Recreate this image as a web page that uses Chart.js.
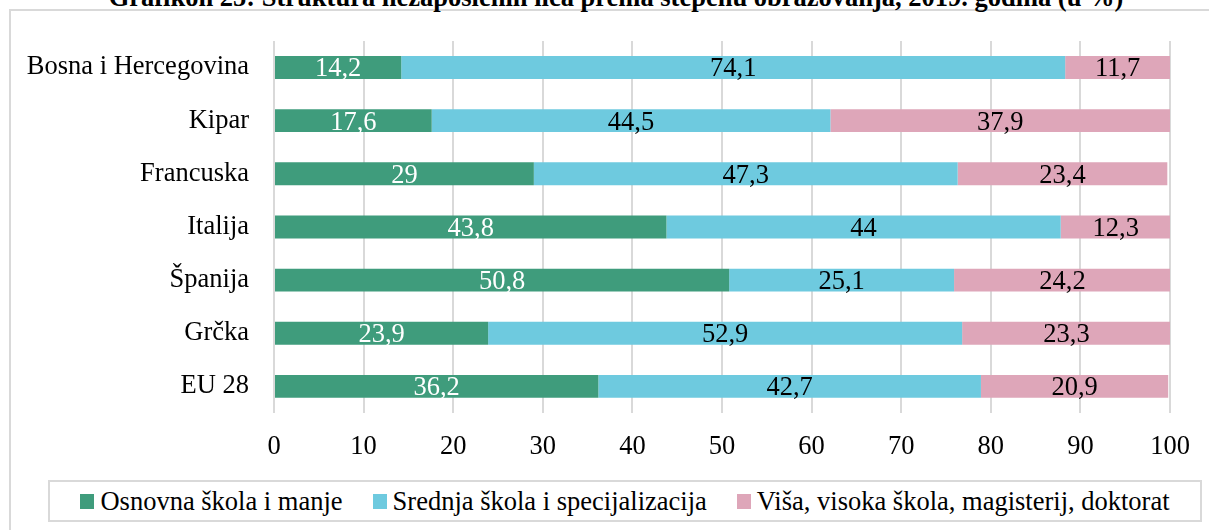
<!DOCTYPE html>
<html lang="bs">
<head>
    <meta charset="UTF-8">
    <title>Grafikon 25</title>
    <script src="https://cdn.jsdelivr.net/npm/chart.js"></script>
    <style>
        body { margin: 0; background: #fff; font-family: "Liberation Serif", "Times New Roman", serif; overflow: hidden; }
        #wrap { position: relative; width: 1209px; height: 530px; overflow: hidden; }
        #title { position: absolute; left: 0; top: -16px; width: 1232px; text-align: center;
                 font-weight: bold; font-size: 26.5px; line-height: 26.5px; color: #000; white-space: nowrap; }
        #frame { position: absolute; left: 9px; top: 9px; width: 1300px; height: 600px;
                 border-top: 2px solid #d9d9d9; border-left: 2px solid #d9d9d9; }
        canvas { position: absolute; left: 0; top: 0; }
        #legend { position: absolute; left: 48px; top: 480px; width: 1150px; height: 38px;
                  border: 2px solid #d9d9d9; display: flex; justify-content: center; align-items: center;
                  font-size: 26.5px; color: #000; background: #fff; }
        .item { display: flex; align-items: center; margin: 0 15px; white-space: nowrap; }
        .box { width: 14px; height: 15px; margin-right: 6px; }
    </style>
</head>
<body>
<div id="wrap">
    <div id="frame"></div>
    <div id="title">Grafikon 25: Struktura nezaposlenih lica prema stepenu obrazovanja, 2019. godina (u %)</div>
    <canvas id="chart" width="1209" height="530"></canvas>
    <div id="legend"></div>
</div>

<script>
    // podaci (u %)
    const categories = ['Bosna i Hercegovina', 'Kipar', 'Francuska', 'Italija', 'Španija', 'Grčka', 'EU 28'];
    const osnovna = [14.2, 17.6, 29, 43.8, 50.8, 23.9, 36.2];
    const srednja = [74.1, 44.5, 47.3, 44, 25.1, 52.9, 42.7];
    const visa = [11.7, 37.9, 23.4, 12.3, 24.2, 23.3, 20.9];
    const seriesNames = ['Osnovna škola i manje', 'Srednja škola i specijalizacija', 'Viša, visoka škola, magisterij, doktorat'];
    const xTicks = [0, 10, 20, 30, 40, 50, 60, 70, 80, 90, 100];

    const colors = ['#3f9c7c', '#6ecadf', '#dea6b9'];
    const labelColors = ['#ffffff', '#000000', '#000000'];
    const font = { family: '"Liberation Serif", "Times New Roman", serif', size: 26.5 };

    // oznake vrijednosti na segmentima
    const valueLabels = {
        id: 'valueLabels',
        afterDatasetsDraw(chart) {
            const ctx = chart.ctx;
            ctx.save();
            ctx.font = font.size + 'px ' + font.family;
            ctx.textAlign = 'center';
            ctx.textBaseline = 'middle';
            chart.data.datasets.forEach((ds, i) => {
                chart.getDatasetMeta(i).data.forEach((bar, j) => {
                    const txt = String(ds.data[j]).replace('.', ',');
                    ctx.fillStyle = labelColors[i];
                    ctx.fillText(txt, (bar.x + bar.base) / 2, bar.y + 2);
                });
            });
            ctx.restore();
        }
    };

    const ctx = document.getElementById('chart').getContext('2d');
    const chart = new Chart(ctx, {
        type: 'bar',
        data: {
            labels: categories,
            datasets: [osnovna, srednja, visa].map((d, i) => ({
                label: seriesNames[i],
                data: d,
                backgroundColor: colors[i],
                borderWidth: 0,
                categoryPercentage: 1,
                barPercentage: 0.43
            }))
        },
        options: {
            indexAxis: 'y',
            responsive: false,
            animation: false,
            layout: { padding: { top: 38, right: 39, left: 0, bottom: 0 } },
            plugins: {
                legend: { display: false },
                tooltip: { enabled: false }
            },
            scales: {
                x: {
                    stacked: true,
                    min: 0,
                    max: 100,
                    afterBuildTicks: (s) => { s.ticks = xTicks.map(v => ({ value: v })); },
                    afterFit: (s) => { s.height = 117; },
                    grid: { color: '#d9d9d9', lineWidth: 2, drawTicks: false },
                    border: { display: false },
                    ticks: { color: '#000', font: font, padding: 18, maxRotation: 0 }
                },
                y: {
                    stacked: true,
                    afterFit: (s) => { s.width = 274; },
                    grid: { display: false, drawTicks: false },
                    border: { display: false },
                    ticks: { color: '#000', font: font, padding: 25 }
                }
            }
        },
        plugins: [valueLabels]
    });

    // legenda
    const legend = document.getElementById('legend');
    seriesNames.forEach((name, i) => {
        const item = document.createElement('div');
        item.className = 'item';
        item.innerHTML = '<span class="box" style="background:' + colors[i] + '"></span><span>' + name + '</span>';
        legend.appendChild(item);
    });
</script>
</body>
</html>
